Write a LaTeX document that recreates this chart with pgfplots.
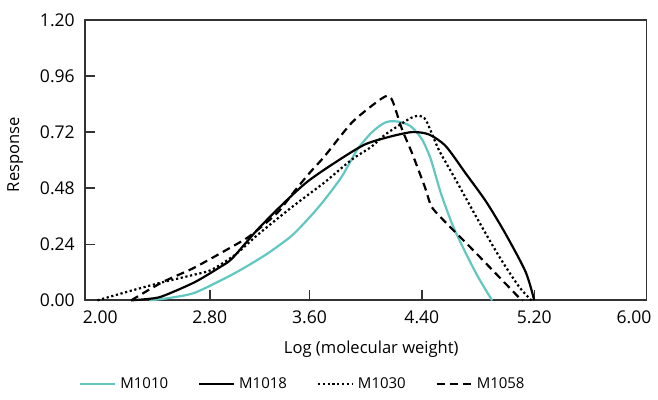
\documentclass[border=0pt]{standalone}
\usepackage{pgfplots}
\pgfplotsset{compat=1.18}
\usepackage{fontspec}
\setmainfont{Open Sans}
\definecolor{tealc}{HTML}{63C7C1}
\definecolor{axgray}{HTML}{333333}
\begin{document}
\begin{tikzpicture}
\begin{axis}[
  scale only axis, width=281.5pt, height=140.5pt,
  xmin=2, xmax=6, ymin=0, ymax=1.2,
  clip=false,
  axis line style={axgray, line width=0.9pt},
  tick style={axgray, line width=0.7pt},
  tick align=inside, major tick length=5pt,
  xtick pos=left, ytick pos=left,
  xtick={2.89,3.6,4.4,5.2}, xticklabels={2.80,3.60,4.40,5.20},
  extra x ticks={2.11,5.91}, extra x tick labels={2.00,6.00},
  extra x tick style={major tick length=0pt},
  ytick={0,0.24,0.48,0.72,0.96,1.2},
  yticklabels={0.00,0.24,0.48,0.72,0.96,1.20},
  ticklabel style={font=\fontsize{8.8}{10}\selectfont},
  xticklabel style={yshift=-1.5pt},
  yticklabel style={xshift=-1.5pt},
  xlabel={Log (molecular weight)}, ylabel={Response},
  label style={font=\fontsize{8.3}{10}\selectfont},
  xlabel style={at={(axis description cs:0.51,-0.174)}, anchor=center},
  ylabel style={at={(axis description cs:-0.124,0.52)}, anchor=center},
  legend style={at={(axis description cs:0.39,-0.299)}, anchor=center, draw=none,
    font=\fontsize{7.5}{9}\selectfont, /tikz/every even column/.append style={column sep=13pt}},
  legend columns=4,
  legend image code/.code={\draw[#1] (0pt,0pt) -- (17.5pt,0pt);},
]
\addplot[tealc, line width=1.1pt, smooth, tension=0.45] coordinates {
(2.46,0) (2.6,0.01) (2.78,0.032) (3.0,0.095) (3.14,0.141) (3.30,0.20)
(3.47,0.275) (3.6,0.355) (3.70,0.425) (3.83,0.53) (3.94,0.645) (4.04,0.717)
(4.12,0.755) (4.17,0.766) (4.24,0.764) (4.32,0.745) (4.40,0.69) (4.46,0.61)
(4.50,0.53) (4.54,0.45) (4.62,0.32) (4.71,0.205) (4.80,0.10) (4.90,0)};
\addlegendentry{M1010}
\addplot[black, line width=1.1pt, smooth, tension=0.45] coordinates {
(2.33,0) (2.45,0.006) (2.55,0.017) (2.78,0.077) (2.97,0.145) (3.05,0.18)
(3.23,0.303) (3.42,0.418) (3.585,0.508) (3.78,0.589) (3.99,0.666) (4.17,0.70)
(4.33,0.72) (4.45,0.71) (4.57,0.66) (4.71,0.545) (4.86,0.42) (5.0,0.28)
(5.14,0.12) (5.20,0)};
\addlegendentry{M1018}
\addplot[black, line width=1.1pt, dash pattern=on 1.1pt off 1.3pt, smooth, tension=0.45] coordinates {
(2.09,0) (2.31,0.038) (2.55,0.077) (2.78,0.11) (2.90,0.13) (3.07,0.195)
(3.23,0.28) (3.47,0.397) (3.705,0.504) (3.90,0.602) (4.04,0.657) (4.14,0.71)
(4.24,0.75) (4.32,0.78) (4.38,0.79) (4.43,0.77) (4.52,0.645) (4.64,0.517)
(4.81,0.333) (4.95,0.188) (5.09,0.06) (5.18,0)};
\addlegendentry{M1030}
\addplot[black, line width=1.1pt, dash pattern=on 4pt off 2.5pt, smooth, tension=0.4] coordinates {
(2.33,0) (2.55,0.077) (2.78,0.14) (3.05,0.23) (3.16,0.269) (3.26,0.316)
(3.38,0.38) (3.49,0.465) (3.6,0.545) (3.705,0.615) (3.90,0.76) (4.07,0.845)
(4.15,0.875) (4.19,0.855) (4.26,0.73) (4.33,0.63) (4.42,0.487) (4.47,0.40)
(4.57,0.333) (4.76,0.218) (4.95,0.10) (5.09,0.013) (5.12,0)};
\addlegendentry{M1058}
\path (rel axis cs:0,0) ++(-42.5pt,-46.5pt) rectangle ++(329pt,197pt);
\end{axis}
\end{tikzpicture}
\end{document}
